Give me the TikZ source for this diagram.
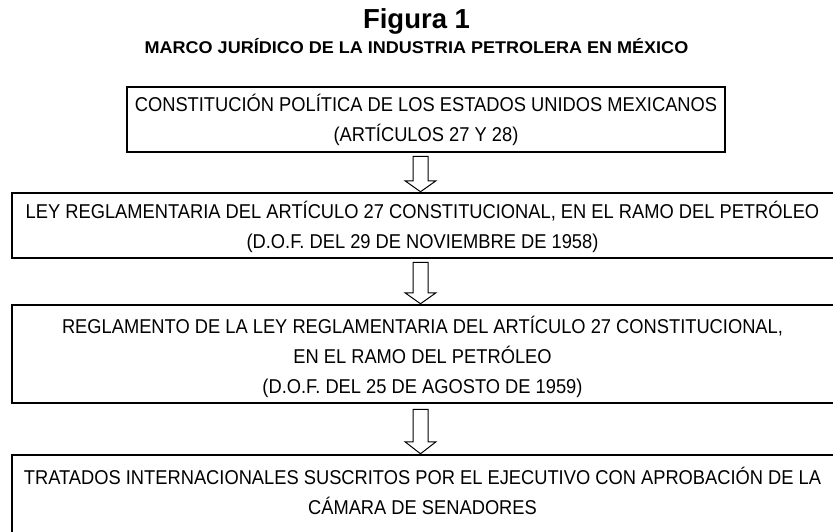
\documentclass[tikz,border=0pt]{standalone}
\usepackage{fontspec}
\setmainfont{Liberation Sans}
\newfontfamily\boxfont{Liberation Sans}[FakeStretch=0.915]
\newfontfamily\subfont{Liberation Sans}[FakeStretch=1.06]
\usetikzlibrary{calc}
\begin{document}
\begin{tikzpicture}[x=1pt,y=-1pt,
  boxtext/.style={font=\boxfont\fontsize{20}{30}\selectfont, align=center, inner sep=0pt},
  frame/.style={draw=black, line width=2.5pt, inner sep=0pt},
  blk/.style={draw=black, line width=1pt, fill=white, line join=miter}]
\useasboundingbox (0,0) rectangle (833,531);
\node[font=\bfseries\fontsize{27.5}{30}\selectfont, anchor=base] (title) at (416.5,28) {Figura 1};
\node[font=\subfont\bfseries\fontsize{17}{20}\selectfont, anchor=base] (sub) at (416.5,53) {MARCO JURÍDICO DE LA INDUSTRIA PETROLERA EN MÉXICO};
\coordinate (ax) at (420.5,0);
\begin{scope}
\clip (0,0) rectangle (833,531);
\node[frame, minimum width=598pt, minimum height=65pt] (b1) at (426,119.5) {};
\node[boxtext] (t1) at (426,120) {CONSTITUCIÓN POLÍTICA DE LOS ESTADOS UNIDOS MEXICANOS\\(ARTÍCULOS 27 Y 28)};
\node[frame, minimum width=824pt, minimum height=65pt] (b2) at (424,225.5) {};
\node[boxtext] (t2) at (422.5,227) {LEY REGLAMENTARIA DEL ARTÍCULO 27 CONSTITUCIONAL, EN EL RAMO DEL PETRÓLEO\\(D.O.F. DEL 29 DE NOVIEMBRE DE 1958)};
\node[frame, minimum width=824pt, minimum height=98pt] (b3) at (424,354) {};
\node[boxtext] (t3) at (422.5,356.5) {REGLAMENTO DE LA LEY REGLAMENTARIA DEL ARTÍCULO 27 CONSTITUCIONAL,\\EN EL RAMO DEL PETRÓLEO\\(D.O.F. DEL 25 DE AGOSTO DE 1959)};
\node[frame, minimum width=824pt, minimum height=100pt] (b4) at (424,505) {};
\node[boxtext] (t4) at (422.5,491) {TRATADOS INTERNACIONALES SUSCRITOS POR EL EJECUTIVO CON APROBACIÓN DE LA\\CÁMARA DE SENADORES};
\end{scope}
\draw[blk] let \p1=($(b1.south -| ax)+(0,3)$), \p2=(b2.north -| ax) in
  (\x1-7.5pt,\y1) -- (\x1-7.5pt,\y2+11pt) -- (\x1-15.5pt,\y2+11pt) -- (\x2,\y2)
  -- (\x1+15.5pt,\y2+11pt) -- (\x1+7.5pt,\y2+11pt) -- (\x1+7.5pt,\y1) -- cycle;
\draw[blk] let \p1=($(b2.south -| ax)+(0,3)$), \p2=(b3.north -| ax) in
  (\x1-7.5pt,\y1) -- (\x1-7.5pt,\y2+11pt) -- (\x1-15.5pt,\y2+11pt) -- (\x2,\y2)
  -- (\x1+15.5pt,\y2+11pt) -- (\x1+7.5pt,\y2+11pt) -- (\x1+7.5pt,\y1) -- cycle;
\draw[blk] let \p1=($(b3.south -| ax)+(0,5)$), \p2=(b4.north -| ax) in
  (\x1-7.5pt,\y1) -- (\x1-7.5pt,\y2+12pt) -- (\x1-15.5pt,\y2+12pt) -- (\x2,\y2)
  -- (\x1+15.5pt,\y2+12pt) -- (\x1+7.5pt,\y2+12pt) -- (\x1+7.5pt,\y1) -- cycle;
\end{tikzpicture}
\end{document}
